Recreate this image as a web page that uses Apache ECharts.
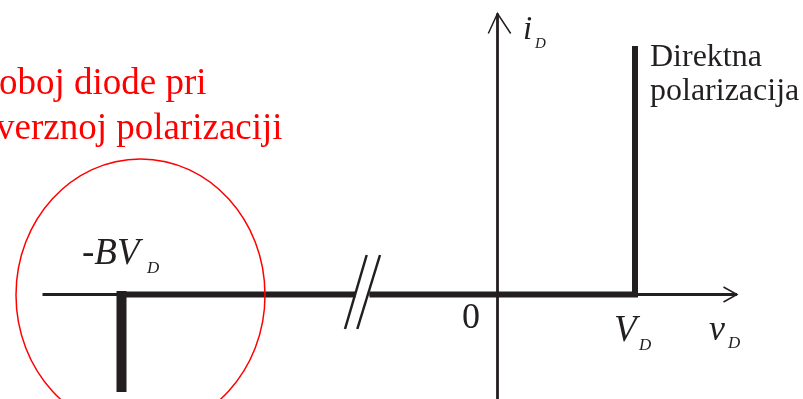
<!DOCTYPE html>
<html>
<head>
<meta charset="utf-8">
<script src="https://cdn.jsdelivr.net/npm/echarts@6/dist/echarts.min.js"></script>
<style>
  html, body { margin: 0; padding: 0; background: #fff; }
  #chart { width: 803px; height: 399px; }
</style>
</head>
<body>
<div id="chart"></div>
<script>
// Ideal diode i-v characteristic (arbitrary units, origin at 0/0)
const xAxisLeft = [[-45.5, 0], [-14.2, 0]];
const xAxisRight = [[-12.8, 0], [23.95, 0]];
const yAxisLine = [[0, -11], [0, 28.1]];
const xArrow = [[22.6, 0.75], [23.95, 0], [22.6, -0.75]];
const yArrow = [[-0.92, 26.1], [0, 28.1], [1.32, 26.1]];

// characteristic: breakdown at -BV_D, forward conduction at V_D
const breakdown = [[-37.6, 0.35], [-37.6, -9.75]];
const reverseLeft = [[-37.6, 0], [-14.2, 0]];
const forward = [[-12.8, 0], [13.75, 0], [13.75, 24.85]];

// axis break marks
const breakMark1 = [[-15.25, -3.45], [-13.08, 3.95]];
const breakMark2 = [[-14.02, -3.45], [-11.75, 3.95]];

const INK = '#231f20';
const RED = '#ff0000';
const SERIF = '"Liberation Serif", "Times New Roman", serif';

const chart = echarts.init(document.getElementById('chart'), null, { renderer: 'canvas' });

function seg(data, width, z) {
  return {
    type: 'line',
    data,
    symbol: 'none',
    silent: true,
    z: z || 2,
    lineStyle: { color: INK, width, cap: 'butt', join: 'miter' },
  };
}

function label(text, x, y, size, opts) {
  opts = opts || {};
  return {
    type: 'text',
    x, y,
    z: 100,
    silent: true,
    style: {
      text,
      x: 0, y: 0,
      font: (opts.italic ? 'italic ' : '') + size + 'px ' + SERIF,
      fill: opts.color || INK,
      textAlign: 'left',
      textVerticalAlign: 'middle',
    },
  };
}

chart.setOption({
  animation: false,
  grid: { left: 0, right: 0, top: 0, bottom: 0 },
  xAxis: { type: 'value', min: -49.75, max: 30.55, show: false },
  yAxis: { type: 'value', min: -10.45, max: 29.45, show: false },
  series: [
    seg(xAxisLeft, 2.8),
    seg(xAxisRight, 2.8),
    seg(yAxisLine, 2.8),
    seg(xArrow, 1.5),
    seg(yArrow, 1.5),
    seg(reverseLeft, 6, 3),
    seg(forward, 6, 3),
    seg(breakdown, 10, 3),
    seg(breakMark1, 2.5, 4),
    seg(breakMark2, 2.5, 4),
  ],
  graphic: [
    {
      type: 'ellipse',
      z: 90,
      silent: true,
      shape: { cx: 140.5, cy: 295, rx: 124.5, ry: 136 },
      style: { fill: 'none', stroke: RED, lineWidth: 1.5 },
    },
    label('oboj diode pri', -1, 84, 37, { color: RED }),
    label('verznoj polarizaciji', -4, 129.5, 37, { color: RED }),
    label('Direktna', 650, 58, 32),
    label('polarizacija', 650, 92, 32),
    label('-BV', 82, 254, 37, { italic: true }),
    label('D', 147, 269, 17, { italic: true }),
    label('i', 523, 30, 33, { italic: true }),
    label('D', 535, 44, 15, { italic: true }),
    label('0', 462, 319, 36),
    label('V', 614, 331, 37, { italic: true }),
    label('D', 639, 346, 17, { italic: true }),
    label('v', 709, 331, 36, { italic: true }),
    label('D', 728, 344, 17, { italic: true }),
  ],
});
</script>
</body>
</html>
